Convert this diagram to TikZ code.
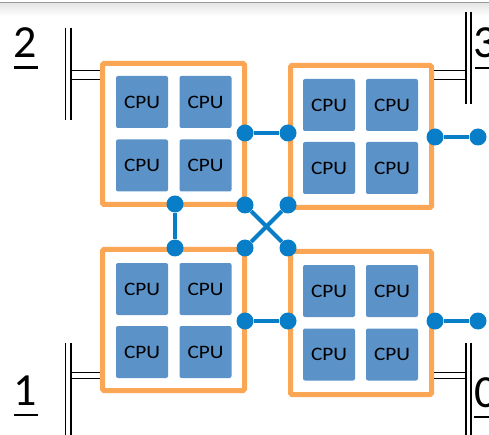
\documentclass[tikz,border=0pt]{standalone}
\usepackage{fontspec}
\setmainfont{Carlito}
\definecolor{cpublue}{RGB}{91,146,200}
\definecolor{frameorange}{RGB}{250,166,84}
\definecolor{linkblue}{RGB}{8,125,200}
\newcommand{\cpulabel}{\scalebox{1.12}[1]{CPU}}
\begin{document}
\begin{tikzpicture}[x=1pt,y=-1pt,
  cpu/.style={fill=cpublue, rounded corners=2pt, minimum width=52pt, minimum height=52pt,
              inner sep=0pt, font=\fontsize{19}{19}\selectfont},
  cluster/.style={draw=frameorange, line width=5pt, rounded corners=1.5pt, inner sep=0pt},
  port/.style={circle, fill=linkblue, minimum size=17pt, inner sep=0pt},
  link/.style={linkblue, line width=4pt},
  bus/.style={black, line width=1.3pt},
  busid/.style={font=\fontsize{46}{46}\selectfont, inner sep=0pt, anchor=base},
  idline/.style={black, line width=2.2pt}]
\useasboundingbox (0,0) rectangle (489,435);

% window edge at the top
\shade[top color=black!10, bottom color=white] (0,3) rectangle (489,16);
\draw[black!40, line width=1.2pt] (0,2.5) -- (489,2.5);

% four clusters
\node[cluster, minimum width=142pt, minimum height=141pt] (tl) at (173.5,134) {};
\node[cluster, minimum width=141pt, minimum height=142pt] (tr) at (361,136.5) {};
\node[cluster, minimum width=142pt, minimum height=141pt] (bl) at (173.5,320) {};
\node[cluster, minimum width=141pt, minimum height=143pt] (br) at (361,323) {};

% processors
\node[cpu] (tl1) at (142,102)     {\cpulabel};
\node[cpu] (tl2) at (205.5,102)   {\cpulabel};
\node[cpu] (tl3) at (142,165.5)   {\cpulabel};
\node[cpu] (tl4) at (205.5,165.5) {\cpulabel};
\node[cpu] (tr1) at (329,105)     {\cpulabel};
\node[cpu] (tr2) at (392,105)     {\cpulabel};
\node[cpu] (tr3) at (329,168)     {\cpulabel};
\node[cpu] (tr4) at (392,168)     {\cpulabel};
\node[cpu] (bl1) at (142,289)     {\cpulabel};
\node[cpu] (bl2) at (205.5,289)   {\cpulabel};
\node[cpu] (bl3) at (142,352)     {\cpulabel};
\node[cpu] (bl4) at (205.5,352)   {\cpulabel};
\node[cpu] (br1) at (329,291)     {\cpulabel};
\node[cpu] (br2) at (392,291)     {\cpulabel};
\node[cpu] (br3) at (329,354.5)   {\cpulabel};
\node[cpu] (br4) at (392,354.5)   {\cpulabel};

% interconnect ports
\node[port] (a1) at (245,133) {};
\node[port] (a2) at (288,133) {};
\node[port] (b1) at (435,137) {};
\node[port] (b2) at (478,137) {};
\node[port] (x1) at (245,205) {};
\node[port] (x2) at (288,205) {};
\node[port] (x3) at (245,248) {};
\node[port] (x4) at (288,248) {};
\node[port] (v1) at (175,204) {};
\node[port] (v2) at (175,248) {};
\node[port] (c1) at (245,321) {};
\node[port] (c2) at (288,321) {};
\node[port] (d1) at (435,321) {};
\node[port] (d2) at (478,321) {};

% interconnect links
\draw[link] (a1) -- (a2);
\draw[link] (b1) -- (b2);
\draw[link] (x1) -- (x4);
\draw[link] (x2) -- (x3);
\draw[link] (v1) -- (v2);
\draw[link] (c1) -- (c2);
\draw[link] (d1) -- (d2);

% bus rails and their stubs
\draw[bus] (65.7,27.7) -- (65.7,120);
\draw[bus] (71,27.7) -- (71,120);
\draw[bus] (71,70.7) -- (100,70.7);
\draw[bus] (71,79.3) -- (100,79.3);

\draw[bus] (466,12) -- (466,104);
\draw[bus] (471,12) -- (471,104);
\draw[bus] (434,70.7) -- (466,70.7);
\draw[bus] (434,79.3) -- (466,79.3);

\draw[bus] (65.7,343) -- (65.7,436);
\draw[bus] (71,343) -- (71,436);
\draw[bus] (71,372.7) -- (100,372.7);
\draw[bus] (71,378.3) -- (100,378.3);

\draw[bus] (466,343) -- (466,436);
\draw[bus] (471,343) -- (471,436);
\draw[bus] (434,372.7) -- (466,372.7);
\draw[bus] (434,378.3) -- (466,378.3);

% bus numbers (the right-hand ones run past the edge)
\node[busid] (n2) at (25,58)  {2};
\node[busid] (n1) at (25,405) {1};
\node[busid] (n3) at (485,58) {3};
\node[busid] (n0) at (486,407) {0};
\draw[idline] (14,67.5) -- (38,67.5);
\draw[idline] (14,415) -- (38,415);
\draw[idline] (475,68) -- (490,68);
\draw[idline] (474,417) -- (490,417);
\end{tikzpicture}
\end{document}
